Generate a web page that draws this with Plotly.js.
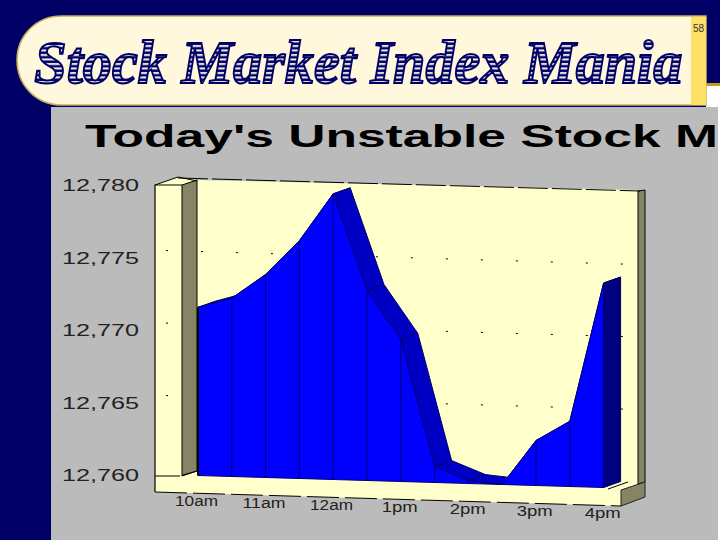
<!DOCTYPE html>
<html>
<head>
<meta charset="utf-8">
<script src="https://cdn.plot.ly/plotly-3.0.1.min.js"></script>
<style>html,body{margin:0;padding:0;background:#000066;overflow:hidden}</style>
</head>
<body>
<div id="chart" style="width:720px;height:540px"></div>
<script>
// ---- data ----
var slots = [0,1,2,3,4,5,6,7,8,9,10,11,12];               // half-hour steps from 10am
var values = [12771.6,12772.3,12774.0,12776.4,12779.7,12773.1,12769.8,12761.1,12760.2,12760.0,12763.1,12764.5,12774.1];
var tickSlots = [0,2,4,6,8,10,12];
var tickLabels = ['10am','11am','12am','1pm','2pm','3pm','4pm'];
var gridValues = [12765,12770,12775];
var yTickValues = [12760,12765,12770,12775,12780];
var yTickLabels = ['12,760','12,765','12,770','12,775','12,780'];

// ---- geometry of the tilted 3-D look, in axis units ----
var L=155,R=645,T=170,B=516;
var pxPerSlot=33.8, pxPerUnit=14.5;
var xMin=(L-198)/pxPerSlot, xMax=(R-198)/pxPerSlot;
var yMax=12760+(475.5-T)/pxPerUnit, yMin=12760+(475.5-B)/pxPerUnit;
var tilt=1/pxPerUnit, depthX=17/pxPerSlot, depthY=6/pxPerUnit;
function X(i,d){return i+(d||0)*depthX;}
function Y(i,v,d){return v-i*tilt+(d||0)*depthY;}
var baseV=12760;

var traces=[];
function poly(xs,ys,fill,line,w){
  traces.push({x:xs,y:ys,mode:'lines',fill:'toself',fillcolor:fill,
    line:{color:line||fill,width:w===undefined?1:w},hoverinfo:'skip',showlegend:false});
}
// sparse gridline specks on the back wall
gridValues.forEach(function(g){
  var s0=-1.45, s1=12.8;
  traces.push({x:[X(s0,1),X(s1,1)],y:[Y(s0,g,1),Y(s1,g,1)],mode:'lines',
    line:{color:'#000',width:1,dash:'2px,33px'},hoverinfo:'skip',showlegend:false});
});
// top surface ribbons
for(var k=0;k<slots.length-1;k++){
  var a=slots[k],b=slots[k+1];
  poly([X(a),X(b),X(b,1),X(a,1),X(a)],
       [Y(a,values[k]),Y(b,values[k+1]),Y(b,values[k+1],1),Y(a,values[k],1),Y(a,values[k])],
       '#0000C4','#00006e',1);
}
// right end face
var last=slots.length-1, e=slots[last];
poly([X(e),X(e,1),X(e,1),X(e),X(e)],
     [Y(e,values[last]),Y(e,values[last],1),Y(e,baseV,1),Y(e,baseV),Y(e,values[last])],'#000080','#000060',1);
// front face
var fx=[],fy=[];
slots.forEach(function(s,k){fx.push(X(s));fy.push(Y(s,values[k]));});
for(var m=last;m>=0;m--){fx.push(X(slots[m]));fy.push(Y(slots[m],baseV));}
fx.push(fx[0]);fy.push(fy[0]);
poly(fx,fy,'#0000FF','#00007a',1);
// separators
slots.forEach(function(s,k){
  traces.push({x:[X(s),X(s)],y:[Y(s,values[k]),Y(s,baseV)],mode:'lines',
    line:{color:s===0?'#000':'#00006a',width:s===0?2:1},hoverinfo:'skip',showlegend:false});
});

// ---- page furniture ----
function px(x){return (x-L)/(R-L);}
function py(y){return (B-y)/(B-T);}
function path(pts){return 'M'+pts.map(function(p){return px(p[0])+','+py(p[1]);}).join(' L')+' Z';}
function openPath(pts){return 'M'+pts.map(function(p){return px(p[0])+','+py(p[1]);}).join(' L');}
function sh(pts,fill,line,w,dash){
  return {type:'path',xref:'paper',yref:'paper',layer:'below',path:path(pts),fillcolor:fill,
    line:{color:line||fill,width:w===undefined?0:w,dash:dash||'solid'}};
}
function ln(pts,color,w,dash){
  return {type:'path',xref:'paper',yref:'paper',layer:'below',path:openPath(pts),
    line:{color:color||'#000',width:w||1,dash:dash||'solid'}};
}
var cx=62;
var bannerPath='M'+px(706)+','+py(16)+' L'+px(cx)+','+py(16)+' C'+px(36)+','+py(16)+' '+px(17)+','+py(36)+' '+px(17)+','+py(60)+
  ' C'+px(17)+','+py(85)+' '+px(36)+','+py(105)+' '+px(cx)+','+py(105)+' L'+px(706)+','+py(105)+' Z';
var shapes=[
  sh([[706,86],[720,86],[720,540],[706,540]],'#FFFFFF'),
  sh([[706,83],[720,83],[720,86],[706,86]],'#C49A1C'),
  {type:'path',xref:'paper',yref:'paper',layer:'below',path:bannerPath,fillcolor:'#FFF8DC',line:{color:'#C8B060',width:1.5}},
  sh([[691,17],[706,17],[706,105],[691,105]],'#FFE066'),
  sh([[51,107],[718,107],[718,540],[51,540]],'#BBBBBB'),
  // box: back wall + left block + floor
  sh([[155,185],[178,177],[197,180],[640,190],[640,485],[621,490],[621,506],[155,492]],'#FFFFCC'),
  // grey wall strips
  sh([[182,185],[197,180],[197,471],[182,476]],'#858566','#000',1),
  sh([[638,191],[645,190],[645,482],[638,484]],'#858566','#000',1),
  sh([[621,490],[645,482],[645,497],[621,506]],'#858566','#222',1),
  // outlines
  ln([[182,185],[155,185],[155,492]],'#000',1.2),
  ln([[155,185],[178,177],[197,181]],'#000',1),
  ln([[178,178],[640,191]],'#000',1,'30px,4px'),
  ln([[155,476],[180,476]],'#000',1),
  ln([[183,475],[197,471]],'#000',1),
  ln([[155,492],[621,506]],'#000',1,'32px,6px'),
  ln([[608,489],[628,482]],'#000',1)
];

var annotations=[
  {xref:'paper',yref:'paper',x:px(358.5),y:py(62),xanchor:'center',yanchor:'middle',showarrow:false,
   text:'<b><i>Stock Market Index Mania</i></b>',font:{family:'Liberation Serif',size:62,color:'#000066'}},
  {xref:'paper',yref:'paper',x:px(699),y:py(29),xanchor:'center',yanchor:'middle',showarrow:false,
   text:'58',font:{family:'Liberation Sans Narrow, Liberation Sans',size:10,color:'#333'}},
  {xref:'paper',yref:'paper',x:px(401.5),y:py(136),xanchor:'center',yanchor:'middle',showarrow:false,
   text:'<b>Today\'s Unstable Stock M</b>',font:{family:'Liberation Sans',size:32,color:'#000'}}
];
tickSlots.forEach(function(s,k){
  annotations.push({xref:'x',yref:'y',x:s-0.04,y:12760-(501+k*2-475.5)/pxPerUnit,xanchor:'center',yanchor:'middle',
    showarrow:false,text:tickLabels[k],font:{family:'Liberation Sans',size:14,color:'#222'}});
});

var layout={
  width:720,height:540,margin:{l:L,r:720-R,t:T,b:540-B,pad:0},
  paper_bgcolor:'#000066',plot_bgcolor:'rgba(0,0,0,0)',showlegend:false,
  xaxis:{range:[xMin,xMax],visible:false,fixedrange:true},
  yaxis:{range:[yMin,yMax],tickmode:'array',tickvals:yTickValues,ticktext:yTickLabels,showgrid:false,zeroline:false,showline:false,
    ticks:'',ticklabelstandoff:15,tickfont:{family:'Liberation Sans',size:16,color:'#222'},fixedrange:true},
  shapes:shapes,annotations:annotations
};

Plotly.newPlot('chart',traces,layout,{staticPlot:true,displayModeBar:false}).then(function(gd){
  var svg=gd.querySelector('svg.main-svg');
  var defs=svg.querySelector('defs');
  var ns='http://www.w3.org/2000/svg';
  var pat=document.createElementNS(ns,'pattern');
  pat.setAttribute('id','stripes');pat.setAttribute('patternUnits','userSpaceOnUse');
  pat.setAttribute('width','8');pat.setAttribute('height','4.5');
  var r1=document.createElementNS(ns,'rect');r1.setAttribute('width','8');r1.setAttribute('height','4.5');r1.setAttribute('fill','#000066');
  var r2=document.createElementNS(ns,'rect');r2.setAttribute('width','8');r2.setAttribute('height','2');r2.setAttribute('y','1');r2.setAttribute('fill','#F4F2E8');
  pat.appendChild(r1);pat.appendChild(r2);defs.appendChild(pat);

  function stretch(t,len){t.setAttribute('textLength',len);t.setAttribute('lengthAdjust','spacingAndGlyphs');}
  gd.querySelectorAll('.ytick text').forEach(function(t){stretch(t,77);});
  gd.querySelectorAll('.annotation-text').forEach(function(t){
    var s=t.textContent;
    if(s.indexOf('Stock Market')===0){
      stretch(t,648);
      t.style.fill='url(#stripes)';t.style.stroke='#000066';t.style.strokeWidth='2px';
    } else if(s.indexOf('Today')===0){
      stretch(t,633);
    } else if(tickLabels.indexOf(s)>=0){
      stretch(t,s.length===4?43:36);
    }
  });
});
</script>
</body>
</html>
